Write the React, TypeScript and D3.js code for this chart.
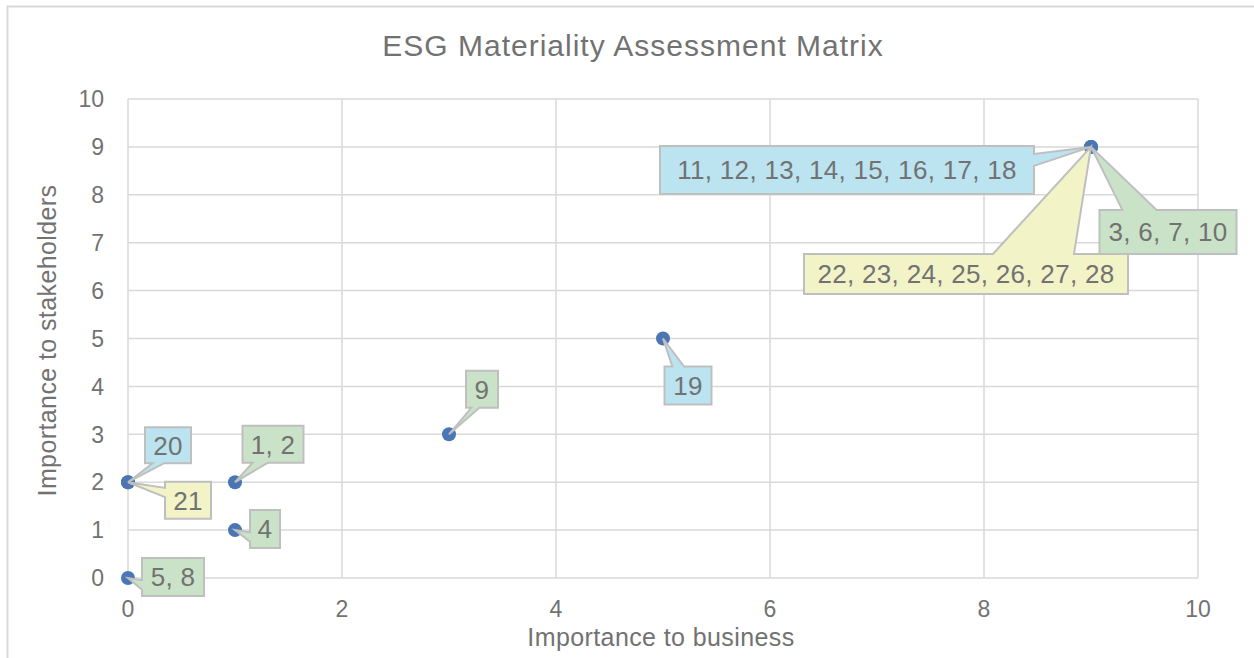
import React from "react";
import * as d3 from "d3";

// issue numbers grouped at each point, by ESG pillar
const pointLabels = [
  "5, 8",
  "4",
  "1, 2",
  "20",
  "21",
  "9",
  "19",
  "11, 12, 13, 14, 15, 16, 17, 18",
  "22, 23, 24, 25, 26, 27, 28",
  "3, 6, 7, 10",
];
const importanceBusiness = [0, 1, 1, 0, 0, 3, 5, 9, 9, 9];
const importanceStakeholders = [0, 1, 2, 2, 2, 3, 5, 9, 9, 9];
const pillar = ["E", "E", "E", "S", "G", "E", "S", "S", "G", "E"];

const xTicks = [0, 2, 4, 6, 8, 10];
const yTicks = [0, 1, 2, 3, 4, 5, 6, 7, 8, 9, 10];

// callout placement (box centre offset from point, box size) in px
const calloutLayout = [
  { dx: 45, dy: -1, w: 62, h: 38 },
  { dx: 30, dy: -1, w: 30, h: 38 },
  { dx: 38, dy: -38, w: 61, h: 37 },
  { dx: 40, dy: -37, w: 46, h: 36 },
  { dx: 60, dy: 18, w: 46, h: 37 },
  { dx: 33, dy: -45, w: 32, h: 37 },
  { dx: 25, dy: 47, w: 47, h: 38 },
  { dx: -244, dy: 23, w: 374, h: 48 },
  { dx: -125, dy: 127, w: 324, h: 40 },
  { dx: 77, dy: 85, w: 137, h: 44 },
];

const pillarFill: Record<string, string> = {
  E: "#CAE2C7",
  S: "#BBE3F0",
  G: "#F3F3C8",
};

const W = 1254;
const H = 658;
const plot = { left: 128, right: 1198, top: 99, bottom: 578 };
const FONT = "'Liberation Sans', Arial, Helvetica, sans-serif";
const TEXT = "#727272";

// Excel style wedge rectangle callout
function calloutPath(x0: number, y0: number, w: number, h: number, tx: number, ty: number) {
  const cx = x0 + w / 2;
  const cy = y0 + h / 2;
  const rx = (tx - cx) / (w / 2);
  const ry = (ty - cy) / (h / 2);
  const x1 = x0 + w;
  const y1 = y0 + h;
  const pts: [number, number][] = [];
  if (Math.abs(ry) >= Math.abs(rx) && ry < 0) {
    // top
    const a = tx > cx ? x0 + (w * 7) / 12 : x0 + (w * 2) / 12;
    const b = tx > cx ? x0 + (w * 10) / 12 : x0 + (w * 5) / 12;
    pts.push([x0, y0], [a, y0], [tx, ty], [b, y0], [x1, y0], [x1, y1], [x0, y1]);
  } else if (Math.abs(ry) >= Math.abs(rx)) {
    // bottom
    const a = tx > cx ? x0 + (w * 10) / 12 : x0 + (w * 5) / 12;
    const b = tx > cx ? x0 + (w * 7) / 12 : x0 + (w * 2) / 12;
    pts.push([x0, y0], [x1, y0], [x1, y1], [a, y1], [tx, ty], [b, y1], [x0, y1]);
  } else if (rx > 0) {
    // right
    const a = ty > cy ? y0 + (h * 7) / 12 : y0 + (h * 2) / 12;
    const b = ty > cy ? y0 + (h * 10) / 12 : y0 + (h * 5) / 12;
    pts.push([x0, y0], [x1, y0], [x1, a], [tx, ty], [x1, b], [x1, y1], [x0, y1]);
  } else {
    // left
    const a = ty > cy ? y0 + (h * 10) / 12 : y0 + (h * 5) / 12;
    const b = ty > cy ? y0 + (h * 7) / 12 : y0 + (h * 2) / 12;
    pts.push([x0, y0], [x1, y0], [x1, y1], [x0, y1], [x0, a], [tx, ty], [x0, b]);
  }
  return d3.line()(pts) + "Z";
}

export default function App() {
  const x = d3.scaleLinear().domain([0, 10]).range([plot.left, plot.right]);
  const y = d3.scaleLinear().domain([0, 10]).range([plot.bottom, plot.top]);

  const points = pointLabels.map((label, i) => ({
    label,
    px: x(importanceBusiness[i]),
    py: y(importanceStakeholders[i]),
    fill: pillarFill[pillar[i]],
    ...calloutLayout[i],
  }));

  return (
    <svg
      width={W}
      height={H}
      style={{ position: "absolute", left: 0, top: 0, background: "#fff" }}
      fontFamily={FONT}
    >
      <rect x={7.5} y={6.5} width={W + 10} height={H + 10} fill="#fff" stroke="#d9d9d9" strokeWidth={2} />

      <text x={633} y={56} textAnchor="middle" fontSize={30} letterSpacing={1} fill={TEXT}>
        ESG Materiality Assessment Matrix
      </text>

      {/* grid */}
      <g stroke="#d9d9d9" strokeWidth={1.5}>
        {yTicks.map((t) => (
          <line key={"gy" + t} x1={plot.left} x2={plot.right} y1={y(t)} y2={y(t)} />
        ))}
        {xTicks.map((t) => (
          <line key={"gx" + t} x1={x(t)} x2={x(t)} y1={plot.top} y2={plot.bottom} />
        ))}
      </g>

      {/* tick labels */}
      <g fontSize={23} fill={TEXT}>
        {yTicks.map((t) => (
          <text key={"ty" + t} x={104} y={y(t)} dy="0.36em" textAnchor="end">
            {t}
          </text>
        ))}
        {xTicks.map((t) => (
          <text key={"tx" + t} x={x(t)} y={617} textAnchor="middle">
            {t}
          </text>
        ))}
      </g>

      <text x={661} y={646} textAnchor="middle" fontSize={25} letterSpacing={0.4} fill={TEXT}>
        Importance to business
      </text>
      <text
        transform={`translate(56,${(plot.top + plot.bottom) / 2 + 2}) rotate(-90)`}
        textAnchor="middle"
        fontSize={25}
        letterSpacing={0.4}
        fill={TEXT}
      >
        Importance to stakeholders
      </text>

      {/* markers */}
      {points.map((p, i) => (
        <circle key={"m" + i} cx={p.px} cy={p.py} r={7} fill="#4a77b4" />
      ))}

      {/* callouts */}
      {points.map((p, i) => {
        const bx = p.px + p.dx - p.w / 2;
        const by = p.py + p.dy - p.h / 2;
        return (
          <g key={"c" + i}>
            <path
              d={calloutPath(bx, by, p.w, p.h, p.px, p.py)}
              fill={p.fill}
              stroke="#bfbfbf"
              strokeWidth={2}
              strokeLinejoin="miter"
            />
            <text
              x={bx + p.w / 2}
              y={by + p.h / 2}
              dy="0.36em"
              textAnchor="middle"
              fontSize={26}
              letterSpacing={0.3}
              fill={TEXT}
            >
              {p.label}
            </text>
          </g>
        );
      })}
    </svg>
  );
}
